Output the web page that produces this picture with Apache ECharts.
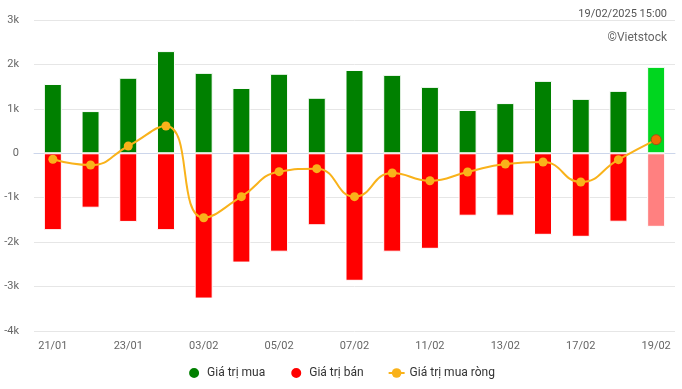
<!DOCTYPE html>
<html><head><meta charset="utf-8">
<script src="https://cdn.jsdelivr.net/npm/echarts@6/dist/echarts.min.js"></script>
<style>html,body{margin:0;padding:0;background:#fff}#c{width:682px;height:389px}</style>
</head><body><div id="c"></div>
<script>
const categories = ['21/01','22/01','23/01','24/01','03/02','04/02','05/02','06/02','07/02','10/02','11/02','12/02','13/02','14/02','17/02','18/02','19/02'];
const buyValues = [1560,950,1700,2300,1810,1470,1790,1250,1875,1765,1495,975,1130,1630,1225,1405,1945];
const sellValues = [-1730,-1225,-1545,-1730,-3270,-2460,-2215,-1620,-2870,-2215,-2150,-1405,-1405,-1835,-1880,-1540,-1655];
const netValues = [-135,-264,164,615,-1450,-977,-414,-346,-977,-444,-617,-421,-241,-196,-646,-144,306];
const yTicks = {min:-4000, max:3000, interval:1000};

const last = categories.length - 1;
const buyData = buyValues.map((v,i)=> i===last ? {value:v,itemStyle:{color:'#00d61f'}} : v);
const sellData = sellValues.map((v,i)=> i===last ? {value:v,itemStyle:{color:'#ff8080'}} : v);
const netData = netValues.map((v,i)=> i===last ? {value:v,itemStyle:{color:'#f06a00',borderColor:'#a0521a',borderWidth:1},symbolSize:10} : v);

const chart = echarts.init(document.getElementById('c'));
chart.setOption({
  animation:false,
  textStyle:{fontFamily:'Roboto, sans-serif'},
  title:[
    {text:'19/02/2025 15:00', right:10, top:4, textStyle:{fontSize:11,fontWeight:'normal',color:'#555'}},
    {text:'©Vietstock', right:10, top:27, textStyle:{fontSize:12,fontWeight:'normal',color:'#666'}}
  ],
  grid:{left:34, right:7, top:20, bottom:58, containLabel:false},
  legend:{
    bottom:4, left:'center', itemGap:24, itemWidth:16, itemHeight:12,
    textStyle:{fontSize:12,color:'#333'},
    data:[{name:'Giá trị mua',icon:'circle'},{name:'Giá trị bán',icon:'circle'},{name:'Giá trị mua ròng'}]
  },
  xAxis:{
    type:'category', data:categories,
    axisLine:{lineStyle:{color:'#ccd6eb'}},
    axisTick:{show:false},
    axisLabel:{interval:1, color:'#666', fontSize:11, margin:10}
  },
  yAxis:{
    type:'value', min:yTicks.min, max:yTicks.max, interval:yTicks.interval,
    axisLine:{show:false}, axisTick:{show:false},
    splitLine:{lineStyle:{color:'#e6e6e6'}},
    axisLabel:{color:'#666', fontSize:11, margin:15, formatter:v=> v===0 ? '0' : (v/1000)+'k'}
  },
  series:[
    {name:'Giá trị mua', type:'bar', stack:'a', data:buyData, barWidth:18,
     itemStyle:{color:'#008000', borderColor:'#fff', borderWidth:1}},
    {name:'Giá trị bán', type:'bar', stack:'a', data:sellData, barWidth:18,
     itemStyle:{color:'#ff0000', borderColor:'#fff', borderWidth:1}},
    {name:'Giá trị mua ròng', type:'line', data:netData, smooth:true,
     symbol:'circle', symbolSize:9,
     lineStyle:{color:'#f9b21a', width:2},
     itemStyle:{color:'#f9b21a'}}
  ]
});
</script></body></html>
